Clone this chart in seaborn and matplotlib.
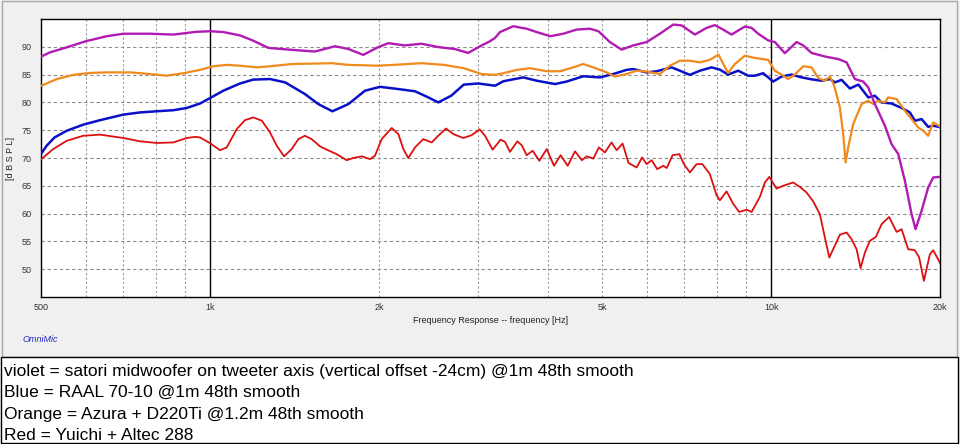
import pandas as pd
import seaborn as sns
import matplotlib.pyplot as plt
from matplotlib.patches import Rectangle
from matplotlib.ticker import FixedLocator, NullFormatter

# Frequency response curves (Hz / dB SPL)

violet_f = [500, 518, 555, 600, 654, 700, 781, 860, 946, 1000, 1055, 1130, 1193, 1270,
            1397, 1537, 1669, 1763, 1874, 1993, 2077, 2222, 2381, 2549, 2728, 2882, 3046,
            3152, 3218, 3284, 3468, 3664, 3818, 4037, 4257, 4498, 4751, 4918, 5155, 5409,
            5672, 5993, 6329, 6685, 6918, 7306, 7664, 7931, 8152, 8493, 8970, 9220, 9475,
            9869, 10144, 10568, 11090, 11394, 11793, 12455, 13156, 13616, 14087, 14575,
            14880, 15292, 15933, 16376, 16832, 17296, 17777, 18069, 18522, 19030, 19427,
            19886, 20000]
violet_db = [88.25, 89.0, 89.9, 91.0, 91.9, 92.35, 92.35, 92.2, 92.7, 92.8, 92.65, 92.05, 91.1, 89.8,
             89.45, 89.15, 90.1, 89.6, 88.55, 89.95, 90.65, 90.25, 90.55, 89.95, 89.6, 88.9, 90.25,
             91.0, 91.6, 92.65, 93.7, 93.25, 92.65, 91.9, 92.35, 93.1, 93.25, 92.8, 90.85, 89.5,
             90.25, 90.85, 92.35, 94.0, 93.85, 92.2, 93.4, 93.9, 93.25, 92.2, 93.65, 93.4, 92.35,
             91.15, 90.85, 88.85, 90.85, 90.25, 88.9, 88.25, 87.8, 87.2, 84.2, 83.75,
             82.7, 79.7, 75.8, 72.5, 70.7, 65.9, 59.9, 57.2, 60.5, 64.7, 66.5,
             66.6, 66.6]

orange_f = [500, 533, 570, 611, 654, 720, 781, 836, 896, 959, 1013, 1070, 1130, 1210, 1278,
            1397, 1647, 1763, 1993, 2164, 2381, 2610, 2830, 3046, 3218, 3329, 3517, 3714,
            3978, 4200, 4436, 4622, 4816, 5086, 5262, 5521, 5752, 5993, 6329, 6594, 6870,
            7158, 7457, 7770, 8050, 8152, 8370, 8609, 8970, 9346, 9869, 10144, 10426, 10712,
            11012, 11394, 11793, 12120, 12455, 12713, 12940, 13246, 13427, 13559, 13704,
            13990, 14480, 14880, 15186, 15500, 15933, 16149, 16717, 17296, 17777, 18263,
            18645, 19030, 19427, 19886, 20000]
orange_db = [83.0, 84.2, 84.95, 85.3, 85.4, 85.4, 85.1, 84.8, 85.25, 85.85, 86.5, 86.75, 86.6, 86.3, 86.5,
             86.9, 87.05, 86.75, 86.6, 86.8, 87.05, 86.75, 86.15, 85.1, 84.95, 85.25, 85.85, 86.15,
             85.6, 85.6, 86.3, 86.9, 86.3, 85.4, 84.65, 85.1, 85.7, 85.55, 85.1, 86.6, 87.5,
             87.5, 87.2, 87.65, 88.6, 87.5, 85.3, 86.9, 88.4, 88.0, 87.65, 85.7, 85.0, 84.2,
             85.0, 86.5, 86.3, 84.4, 83.9, 84.65, 83.0, 79.1, 74.3, 69.2, 71.9,
             76.1, 79.7, 80.3, 79.7, 80.3, 80.0, 80.9, 80.6, 78.5, 77.0, 75.5,
             74.9, 74.0, 76.4, 75.8, 75.6]

blue_f = [500, 511, 528, 555, 594, 636, 700, 750, 803, 860, 908, 959, 1000, 1055, 1130, 1193,
          1278, 1360, 1475, 1558, 1651, 1763, 1887, 2007, 2164, 2317, 2447, 2549, 2688, 2830,
          3003, 3218, 3329, 3613, 3818, 4115, 4316, 4622, 4949, 5225, 5521, 5672, 5993, 6244,
          6640, 6870, 7158, 7457, 7824, 8095, 8370, 8727, 9092, 9346, 9669, 10074, 10426,
          10864, 11319, 11793, 12287, 12713, 12976, 13338, 13800, 14290, 14880, 15292, 15718,
          16376, 17063, 17654, 18020, 18522, 19030, 19427, 19886, 20000]
blue_db = [70.8, 72.2, 73.7, 74.9, 76.0, 76.8, 77.8, 78.2, 78.4, 78.6, 79.0, 79.8, 80.8, 82.1, 83.4, 84.1,
           84.2, 83.6, 81.5, 79.7, 78.4, 79.7, 82.1, 82.8, 82.4, 82.0, 80.9, 80.0, 81.2, 83.2,
           83.4, 83.0, 83.8, 84.5, 83.9, 83.3, 83.75, 84.7, 84.5, 85.1, 85.85, 86.0, 85.4, 85.6,
           86.3, 85.7, 84.95, 85.7, 86.3, 85.9, 85.0, 85.7, 84.8, 84.8, 85.25, 83.75, 84.65,
           85.0, 84.5, 84.15, 83.9, 84.2, 83.6, 84.05, 82.5, 83.2, 80.9, 81.2, 80.0,
           79.8, 79.0, 78.2, 76.7, 77.0, 75.6, 75.8, 75.6, 75.5]

red_f = [500, 525, 555, 594, 636, 700, 750, 803, 860, 908, 940,
         959, 998, 1041, 1070, 1115, 1153, 1193, 1236, 1278, 1314, 1354, 1397, 1436, 1475,
         1516, 1569, 1613, 1680, 1750, 1798, 1862, 1926, 1966, 2021, 2106, 2164, 2209, 2254,
         2317, 2397, 2481, 2549, 2631, 2712, 2825, 2923, 3020,
         3088, 3186, 3293, 3352, 3421, 3526, 3590, 3664, 3755, 3859, 3978, 4099, 4211, 4335,
         4467, 4596, 4687, 4816, 4928, 5051, 5190, 5300, 5431, 5565, 5752, 5885, 5993, 6118,
         6260, 6420, 6510, 6667, 6855, 6985, 7158, 7357, 7535, 7770, 7986, 8095, 8321, 8546,
         8762, 9033, 9220, 9539,
         9737, 9915, 10214, 10496, 10935, 11240, 11551, 11871, 12202, 12455, 12683, 12888,
         13246, 13616, 13897, 14186, 14422, 14677, 14981, 15352, 15718, 16210, 16717, 17063,
         17530, 18020, 18340, 18695, 19164, 19427, 19886, 20000]
red_db = [69.8, 71.6, 73.1, 74.0, 74.2, 73.6, 73.0, 72.7, 72.8, 73.6, 73.8,
          73.7, 72.7, 71.4, 71.9, 75.2, 76.8, 77.3, 76.7, 74.6, 72.2, 70.3, 71.6, 73.4, 74.0,
          73.4, 72.1, 71.5, 70.7, 69.6, 70.0, 70.3, 69.8, 70.4, 73.4, 75.4, 74.3, 71.6, 70.0,
          71.9, 73.4, 72.8, 74.0, 75.3, 74.3, 73.6, 74.1, 75.15,
          74.0, 71.5, 73.3, 72.9, 71.1, 73.0, 72.3, 70.5, 71.3, 69.5, 71.6, 68.6, 70.5, 68.6,
          71.2, 69.6, 70.3, 69.9, 71.9, 71.0, 72.8, 71.4, 72.6, 69.1, 68.3, 70.1, 68.9, 69.6,
          68.0, 68.6, 68.2, 70.5, 70.7, 68.9, 67.4, 68.9, 68.9, 67.1, 63.3, 62.4, 64.0, 61.8,
          60.3, 60.7, 60.3, 63.0,
          65.6, 66.6, 64.5, 65.0, 65.6, 64.8, 63.8, 62.2, 59.9, 55.7, 52.1, 53.6,
          56.2, 56.6, 55.4, 53.6, 50.2, 53.0, 55.1, 55.8, 58.1, 59.4, 56.7, 57.2,
          53.6, 53.4, 52.1, 47.9, 52.7, 53.4, 51.5, 51.0]

x_ticks = [500, 1000, 2000, 5000, 10000, 20000]
x_ticklabels = ["500", "1k", "2k", "5k", "10k", "20k"]
y_ticks = [50, 55, 60, 65, 70, 75, 80, 85, 90]
minor_grid = [600, 700, 800, 900, 2000, 3000, 4000, 5000, 6000, 7000, 8000, 9000]
decades = [1000, 10000]

legend_lines = [
    "violet = satori midwoofer on tweeter axis (vertical offset -24cm) @1m 48th smooth",
    "Blue = RAAL 70-10 @1m 48th smooth",
    "Orange = Azura + D220Ti @1.2m 48th smooth",
    "Red = Yuichi + Altec 288",
]

sns.set_style("white")
plt.rcParams['font.family'] = ['Liberation Sans', 'DejaVu Sans']

W, H = 960, 444
fig = plt.figure(figsize=(9.6, 4.44), dpi=100, facecolor='#f0f0f0')
ax = fig.add_axes([41.3 / W, 1 - 297 / H, 899 / W, 278 / H])
ax.set_facecolor('white')

# grid first so the curves sit on top
for v in y_ticks:
    ax.axhline(v, color='#8c8c8c', lw=0.8, ls=(0, (3, 2.5)), zorder=1)
for f in minor_grid:
    ax.axvline(f, color='#9a9a9a', lw=0.8, ls=(0, (2, 2)), zorder=1)
for f in decades:
    ax.axvline(f, color='black', lw=1.0, zorder=1)

curves = [
    (red_f, red_db, '#dc1010', 1.3),
    (blue_f, blue_db, '#0a10c8', 1.8),
    (orange_f, orange_db, '#f08a1c', 1.6),
    (violet_f, violet_db, '#b21ab4', 1.7),
]
for fx, db, col, lw in curves:
    df = pd.DataFrame({"freq": fx, "spl": db})
    sns.lineplot(data=df, x="freq", y="spl", ax=ax, color=col, lw=lw,
                 estimator=None, sort=False, zorder=3)

ax.set_xscale('log')
ax.set_xlim(500, 20000)
ax.set_ylim(45, 95)
ax.set_xticks(x_ticks)
ax.set_xticklabels(x_ticklabels)
ax.xaxis.set_minor_locator(FixedLocator(minor_grid))
ax.xaxis.set_minor_formatter(NullFormatter())
ax.set_yticks(y_ticks)
ax.set_yticklabels([str(v) for v in y_ticks])
ax.tick_params(axis='x', which='both', direction='out', length=3, width=0.8,
               color='#555555', labelsize=6.5, pad=1.5, labelcolor='#333333')
ax.tick_params(axis='y', length=0, labelsize=6.5, pad=7, labelcolor='#333333')
for s in ax.spines.values():
    s.set_color('black')
    s.set_linewidth(1.0)

ax.set_xlabel("Frequency Response -- frequency [Hz]", fontsize=6.5, color='#222222', labelpad=3)
ax.set_ylabel("[d B S P L]", fontsize=6.5, color='#222222', labelpad=5)

fig.text(23 / W, 1 - 339 / H, "OmniMic", color='#2828c8', fontsize=6.5, style='italic',
         va='center', ha='left')

# panel border and the caption box under it
fig.patches.append(Rectangle((1.5 / W, 1 - 357 / H), 955.5 / W, 355.5 / H,
                             transform=fig.transFigure, fill=False, ec='#a8a8a8', lw=1))
fig.patches.append(Rectangle((0.5 / W, 1.5 / H), 957.5 / W, 85.5 / H,
                             transform=fig.transFigure, fc='white', ec='black', lw=1))

baselines = [376, 397.3, 418.7, 440]
for txt, yb in zip(legend_lines, baselines):
    fig.text(3.5 / W, 1 - yb / H, txt, fontsize=12.5, va='baseline', ha='left', color='black')

fig.savefig("out.png", dpi=100, facecolor=fig.get_facecolor())
